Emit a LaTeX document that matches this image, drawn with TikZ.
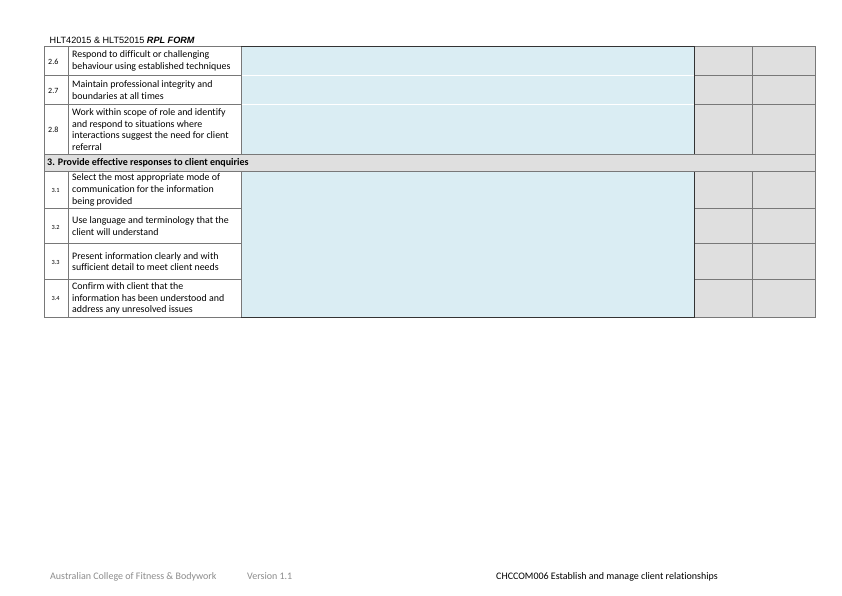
\documentclass[tikz,border=0pt]{standalone}
\usepackage{fontspec}
\setmainfont{Carlito}[Ligatures=NoCommon]
\newfontfamily\arialfont{Liberation Sans}
\definecolor{cellblue}{RGB}{218,237,243}
\definecolor{cellgrey}{RGB}{223,223,223}
\definecolor{rulegrey}{RGB}{120,120,120}
\definecolor{footgrey}{RGB}{140,140,140}
\tikzset{
  rule/.style={draw=rulegrey,line width=0.7pt},
  crit/.style={anchor=west,align=left,inner sep=0pt,font=\fontsize{9.9}{11.6}\selectfont},
  numbig/.style={anchor=west,inner sep=0pt,font=\fontsize{8}{9}\selectfont},
  numsmall/.style={anchor=west,inner sep=0pt,font=\fontsize{6.3}{8}\selectfont},
  foot/.style={anchor=base west,inner sep=0pt,font=\fontsize{10}{12}\selectfont}
}
\begin{document}
\begin{tikzpicture}[x=1pt,y=-1pt]
        \useasboundingbox[fill=white] (0,0) rectangle (842,596);

        \node[anchor=base west,inner sep=0pt,font=\arialfont\fontsize{9.1}{11}\selectfont] (header) at (49.5,43.8) {HLT42015 \& HLT52015 \textbf{\textit{RPL FORM}}};

        % left cells
        \foreach \ya/\yb in {46/75,75/104,104/154,171/208,208/243,243/279,279/317}{
          \draw[rule,fill=white] (44,\ya) rectangle (68,\yb);
          \draw[rule,fill=white] (68,\ya) rectangle (241,\yb);
          \draw[rule,fill=cellgrey] (694,\ya) rectangle (752,\yb);
          \draw[rule,fill=cellgrey] (752,\ya) rectangle (815,\yb);
        }

        % evidence boxes
        \draw[fill=cellblue,draw=none] (241,46) rectangle (694,154);
        \draw[white,line width=0.4pt] (241,75)--(694,75);
        \draw[white,line width=0.4pt] (241,104)--(694,104);
        \draw[rule] (241,46)--(241,154);
        \draw[black!80,line width=0.8pt] (241,46)--(694,46)--(694,154)--(241,154);
        \draw[fill=cellblue,draw=none] (241,171) rectangle (694,317);
        \draw[rule] (241,171)--(241,317)--(694,317);
        \draw[black!80,line width=0.8pt] (694,171)--(694,317)--(241,317);

        % section row
        \draw[rule,fill=cellgrey] (44,154) rectangle (815,171);
        \node[anchor=west,inner sep=0pt,font=\fontsize{10}{12}\selectfont\bfseries] (sec3) at (47,162.5) {3. Provide effective responses to client enquiries};

        \node[numbig] (n26) at (48,62) {2.6};
        \node[numbig] (n27) at (48,90.5) {2.7};
        \node[numbig] (n28) at (48,130) {2.8};
        \node[numsmall] (n31) at (51.5,190.5) {3.1};
        \node[numsmall] (n32) at (51.5,227) {3.2};
        \node[numsmall] (n33) at (51.5,262.5) {3.3};
        \node[numsmall] (n34) at (51.5,298.5) {3.4};

        \node[crit] (c26) at (72,61) {Respond to difficult or challenging\\behaviour using established techniques};
        \node[crit] (c27) at (72,90) {Maintain professional integrity and\\boundaries at all times};
        \node[crit] (c28) at (72,129.5) {Work within scope of role and identify\\and respond to situations where\\interactions suggest the need for client\\referral};
        \node[crit] (c31) at (72,190) {Select the most appropriate mode of\\communication for the information\\being provided};
        \node[crit] (c32) at (72,226) {Use language and terminology that the\\client will understand};
        \node[crit] (c33) at (72,261.5) {Present information clearly and with\\sufficient detail to meet client needs};
        \node[crit] (c34) at (72,298.5) {Confirm with client that the\\information has been understood and\\address any unresolved issues};

        % footer
        \node[foot,text=footgrey] (college) at (50,579.5) {Australian College of Fitness \& Bodywork};
        \node[foot,text=footgrey] (version) at (247,579.5) {Version 1.1};
        \node[foot] (unit) at (496,579.5) {CHCCOM006 Establish and manage client relationships};
\end{tikzpicture}
\end{document}
